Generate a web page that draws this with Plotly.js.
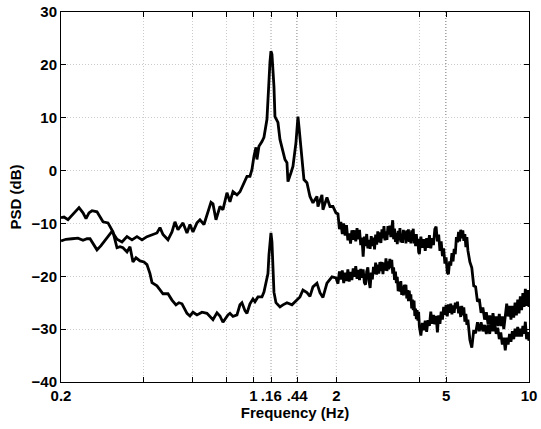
<!DOCTYPE html>
<html>
<head>
<meta charset="utf-8">
<script src="https://cdn.plot.ly/plotly-3.0.1.min.js"></script>
<style>
html,body{margin:0;padding:0;background:#fff;}
#chart{width:541px;height:429px;}
</style>
</head>
<body>
<div id="chart"></div>
<script>
// ---- Data (frequency in Hz, PSD in dB) ----
const freqLowA = [0.2000,0.2085,0.2192,0.2305,0.2404,0.2486,0.2549,0.2613,0.2702,0.2794,0.2889,0.2987,0.3062,0.3194,0.3330,0.3472,0.3620,0.3774,0.3936,0.4103,0.4279,0.4461,0.4575,0.4691,0.4891,0.5057,0.5185,0.5317,0.5544,0.5733,0.5878,0.6027,0.6232,0.6390,0.6608,0.6832,0.7006,0.7124,0.7305,0.7553,0.7744,0.8008,0.8211,0.8420,0.8706,0.8927,0.9154,0.9465,0.9706,0.9869,1.0035,1.0204,1.0290,1.0463,1.0729,1.0910,1.1187,1.1281,1.1471,1.1567,1.1664,1.1762,1.1861,1.1961,1.2264,1.2471,1.2788,1.3004,1.3223,1.3334,1.3672,1.3902,1.4256,1.4496,1.4618,1.4989,1.5241,1.5628,1.6026,1.6432,1.6990,1.7133,1.7716,1.7865,1.8472,1.8941,1.9422,1.9915];
const psdLowA = [-13.3,-13.0,-12.9,-12.8,-13.2,-12.9,-12.9,-13.8,-15.0,-14.2,-13.2,-12.3,-11.5,-13.0,-13.5,-12.5,-13.1,-12.5,-13.1,-12.5,-12.1,-11.8,-10.8,-12.1,-13.1,-11.6,-9.7,-11.2,-9.9,-11.8,-10.2,-11.6,-9.9,-9.3,-10.2,-7.8,-6.0,-6.3,-9.3,-6.8,-7.4,-4.2,-5.9,-4.0,-4.6,-4.0,-2.7,-1.1,-1.1,0.2,2.7,4.4,2.1,4.6,5.5,6.3,9.7,14.0,20.5,22.6,22.0,19.0,15.9,10.2,9.1,5.9,3.4,2.1,1.5,-2.1,-0.4,0.8,5.3,10.2,8.3,2.7,-1.7,-2.3,-4.9,-6.1,-4.9,-6.8,-4.6,-7.4,-5.1,-6.8,-6.8,-8.0];

const freqLowB = [0.2000,0.2051,0.2120,0.2229,0.2325,0.2404,0.2465,0.2527,0.2592,0.2702,0.2771,0.2841,0.2962,0.3037,0.3088,0.3194,0.3275,0.3358,0.3472,0.3560,0.3650,0.3743,0.3871,0.4002,0.4103,0.4208,0.4279,0.4461,0.4575,0.4691,0.4891,0.5057,0.5229,0.5362,0.5498,0.5733,0.5878,0.6027,0.6232,0.6498,0.6775,0.6948,0.7124,0.7366,0.7553,0.7744,0.8075,0.8211,0.8420,0.8706,0.8927,0.9078,0.9308,0.9465,0.9706,0.9952,1.0119,1.0376,1.0729,1.0910,1.1094,1.1281,1.1375,1.1471,1.1567,1.1664,1.1762,1.1861,1.2061,1.2471,1.2788,1.3223,1.3787,1.4376,1.4740,1.5114,1.5628,1.6026,1.6432,1.6990,1.7423,1.7865,1.8472,1.9260,1.9915];
const psdLowB = [-8.9,-8.8,-9.3,-8.0,-7.0,-8.0,-9.1,-8.0,-7.6,-7.8,-8.8,-9.7,-9.9,-11.0,-11.6,-14.6,-14.4,-14.6,-15.4,-14.4,-17.3,-16.5,-17.1,-17.3,-17.8,-19.5,-21.2,-21.8,-22.5,-23.3,-23.3,-24.5,-25.4,-25.0,-25.2,-27.0,-27.5,-26.8,-27.3,-26.8,-27.0,-27.7,-28.2,-26.9,-27.5,-28.7,-27.3,-27.0,-27.6,-27.3,-25.4,-25.0,-26.5,-27.0,-25.2,-24.3,-24.8,-23.9,-23.9,-23.0,-21.5,-19.5,-16.0,-12.8,-11.8,-13.5,-18.8,-23.0,-25.0,-25.8,-25.4,-25.0,-25.4,-24.5,-23.9,-22.6,-23.1,-23.8,-22.0,-21.3,-23.1,-24.0,-21.3,-20.1,-20.3];

// high-frequency part, shared frequency grid for both spectra
const freqHi1 = [2.025,2.05,2.075,2.1,2.125,2.15,2.175,2.2,2.225,2.25,
  2.275,2.3,2.325,2.35,2.375,2.4,2.425,2.45,2.475,2.5,
  2.525,2.55,2.575,2.6,2.625,2.65,2.675,2.7,2.725,2.75,
  2.775,2.8,2.825,2.85,2.875,2.9,2.925,2.95,2.975,3.0,
  3.025,3.05,3.075,3.1,3.125,3.15,3.175,3.2,3.225,3.25,
  3.275,3.3,3.325,3.35,3.375,3.4,3.425,3.45,3.475,3.5,
  3.525,3.55,3.575,3.6,3.625,3.65,3.675,3.7,3.725,3.75,
  3.775,3.8,3.825,3.85,3.875,3.9,3.925,3.95,3.975,4.0];
const freqHi2 = [4.05,4.1,4.15,4.2,4.25,4.3,4.35,4.4,4.45,4.5,
  4.55,4.6,4.65,4.7,4.75,4.8,4.85,4.9,4.95,5.0,
  5.05,5.1,5.15,5.2,5.25,5.3,5.35,5.4,5.45,5.5,
  5.55,5.6,5.65,5.7,5.75,5.8,5.85,5.9,5.95,6.0];
const freqHi3 = [6.1,6.2,6.3,6.4,6.5,6.6,6.7,6.8,6.9,7.0,7.1,7.2,7.3,7.4,7.5,7.6,7.7,7.8,7.9,8.0,
  8.1,8.2,8.3,8.4,8.5,8.6,8.7,8.8,8.9,9.0,9.1,9.2,9.3,9.4,9.5,9.6,9.7,9.8,9.9,10.0];

const psdHiA1 = [-8.2,-11.1,-9.7,-12.0,-10.0,-12.3,-10.3,-13.2,-11.9,-13.8,
  -11.3,-13.1,-11.3,-13.4,-10.9,-13.0,-11.2,-14.1,-12.7,-16.3,
  -12.5,-14.3,-12.0,-14.7,-13.1,-14.8,-12.4,-14.3,-12.7,-14.9,
  -12.1,-14.0,-11.5,-13.6,-11.7,-13.7,-11.1,-12.8,-10.5,-13.2,
  -11.5,-13.1,-10.5,-12.1,-10.4,-12.6,-10.0,-9.4,-13.0,-11.0,
  -13.5,-11.8,-13.9,-11.4,-13.2,-10.9,-13.6,-12.0,-13.7,-11.2,
  -13.0,-11.5,-13.8,-11.3,-13.4,-11.1,-13.5,-11.7,-13.8,-11.3,
  -13.2,-11.0,-13.8,-12.4,-14.3,-12.0,-14.1,-12.9,-15.4,-15.8];
const psdHiA2 = [-12.5,-14.6,-13.0,-15.2,-12.8,-14.6,-12.2,-14.7,-12.8,-14.1,
  -11.1,-10.6,-13.4,-12.1,-15.2,-13.4,-16.2,-14.7,-17.6,-16.4,
  -19.3,-19.6,-17.2,-18.0,-15.6,-17.2,-14.8,-15.8,-12.6,-13.6,
  -11.6,-13.4,-11.2,-12.8,-11.3,-13.3,-12.0,-14.5,-12.6,-15.1];
const psdHiA3 = [-17.3,-18.4,-21.8,-22.0,-24.8,-24.3,-26.9,-25.9,-28.2,-26.8,
  -29.0,-27.4,-29.4,-27.0,-29.3,-27.6,-29.4,-27.1,-29.4,-27.6,
  -30.0,-27.7,-25.2,-27.6,-25.6,-28.2,-25.6,-27.8,-25.0,-27.4,
  -24.4,-27.0,-23.8,-26.4,-23.2,-25.8,-22.4,-25.6,-22.6,-25.8];

const psdHiB1 = [-21.4,-19.1,-20.6,-18.9,-21.3,-19.3,-20.9,-18.7,-21.0,-19.2,
  -20.7,-18.5,-20.1,-18.1,-20.5,-18.8,-20.7,-18.6,-20.3,-18.7,
  -21.2,-21.6,-19.1,-18.3,-20.9,-22.2,-19.3,-20.6,-18.2,-19.6,
  -17.4,-19.7,-17.8,-19.5,-17.3,-19.0,-17.3,-19.6,-17.4,-18.9,
  -16.6,-19.0,-17.2,-18.7,-16.7,-18.4,-16.9,-19.5,-18.3,-20.7,
  -19.1,-21.3,-20.1,-22.8,-21.1,-22.9,-20.9,-23.5,-21.9,-23.6,
  -21.6,-23.4,-21.6,-24.2,-22.6,-24.7,-22.7,-24.7,-23.4,-26.1,
  -24.4,-26.4,-24.6,-27.5,-26.1,-28.1,-26.4,-28.4,-26.7,-29.5];
const psdHiB2 = [-31.2,-28.8,-30.2,-28.4,-30.5,-28.3,-29.4,-26.7,-29.0,-27.3,
  -29.1,-27.5,-30.6,-27.4,-29.0,-26.7,-28.2,-25.8,-27.3,-25.4,
  -27.6,-25.3,-26.9,-25.2,-27.2,-25.5,-26.9,-25.0,-26.1,-24.8,
  -27.0,-25.7,-27.7,-25.6,-27.4,-25.9,-28.6,-27.1,-29.2,-28.2];
const psdHiB3 = [-32.0,-33.5,-30.2,-30.8,-28.7,-30.4,-28.7,-30.4,-29.2,-30.9,
  -29.1,-30.9,-28.6,-30.4,-28.7,-30.9,-29.7,-31.9,-30.6,-32.9,
  -31.6,-34.0,-31.6,-32.9,-30.9,-32.4,-30.4,-31.9,-29.9,-31.4,
  -29.6,-31.4,-29.9,-31.4,-29.4,-30.9,-28.6,-31.9,-30.6,-32.2];

const xTickVals = [0.2,0.4,0.6,0.8,1,1.16,1.44,2,4,5,10];
const xTickText = ["0.2","","","","1",".16",".44","2","","5","10"];
const xMarkedLines = [1,1.16,1.44,2,5];
const yTickVals = [-40,-30,-20,-10,0,10,20,30];

// ---- Build traces ----
const freqHigh = freqHi1.concat(freqHi2, freqHi3);
const lineStyle = {color:'#000', width:2.8};
const traces = [
  {x: freqLowA.concat(freqHigh), y: psdLowA.concat(psdHiA1, psdHiA2, psdHiA3), mode:'lines', line: lineStyle, hoverinfo:'skip'},
  {x: freqLowB.concat(freqHigh), y: psdLowB.concat(psdHiB1, psdHiB2, psdHiB3), mode:'lines', line: lineStyle, hoverinfo:'skip'}
];

const shapes = xMarkedLines.map(v => ({
  type:'line', xref:'x', yref:'paper', x0:v, x1:v, y0:0, y1:1,
  line:{color:'#222', width:1, dash:'1px,2px'}, layer:'below'
}));

const font = {family:'"Liberation Sans", Arial, Helvetica, sans-serif', size:15, color:'#000', weight:'bold'};

const layout = {
  width:541, height:429,
  margin:{l:61, r:12, t:12, b:47},
  paper_bgcolor:'#fff', plot_bgcolor:'#fff',
  showlegend:false,
  font: font,
  xaxis:{
    type:'log', range:[Math.log10(0.2), 1],
    tickmode:'array', tickvals:xTickVals, ticktext:xTickText,
    ticks:'inside', ticklen:5, tickwidth:1, tickcolor:'#000',
    showline:true, linecolor:'#000', linewidth:1, mirror:'ticks',
    showgrid:true, gridcolor:'#cccccc', gridwidth:1, griddash:'1px,2px',
    zeroline:false, tickangle:0,
    tickfont: font,
    title:{text:'Frequency (Hz)', font: font, standoff:2}
  },
  yaxis:{
    range:[-40,30], tickmode:'array', tickvals:yTickVals,
    ticks:'inside', ticklen:5, tickwidth:1, tickcolor:'#000',
    showline:true, linecolor:'#000', linewidth:1, mirror:'ticks',
    showgrid:true, gridcolor:'#cccccc', gridwidth:1, griddash:'1px,2px',
    zeroline:false,
    tickfont: font,
    title:{text:'PSD (dB)', font: font, standoff:6}
  },
  shapes: shapes
};

Plotly.newPlot('chart', traces, layout, {staticPlot:true, displayModeBar:false});
</script>
</body>
</html>
